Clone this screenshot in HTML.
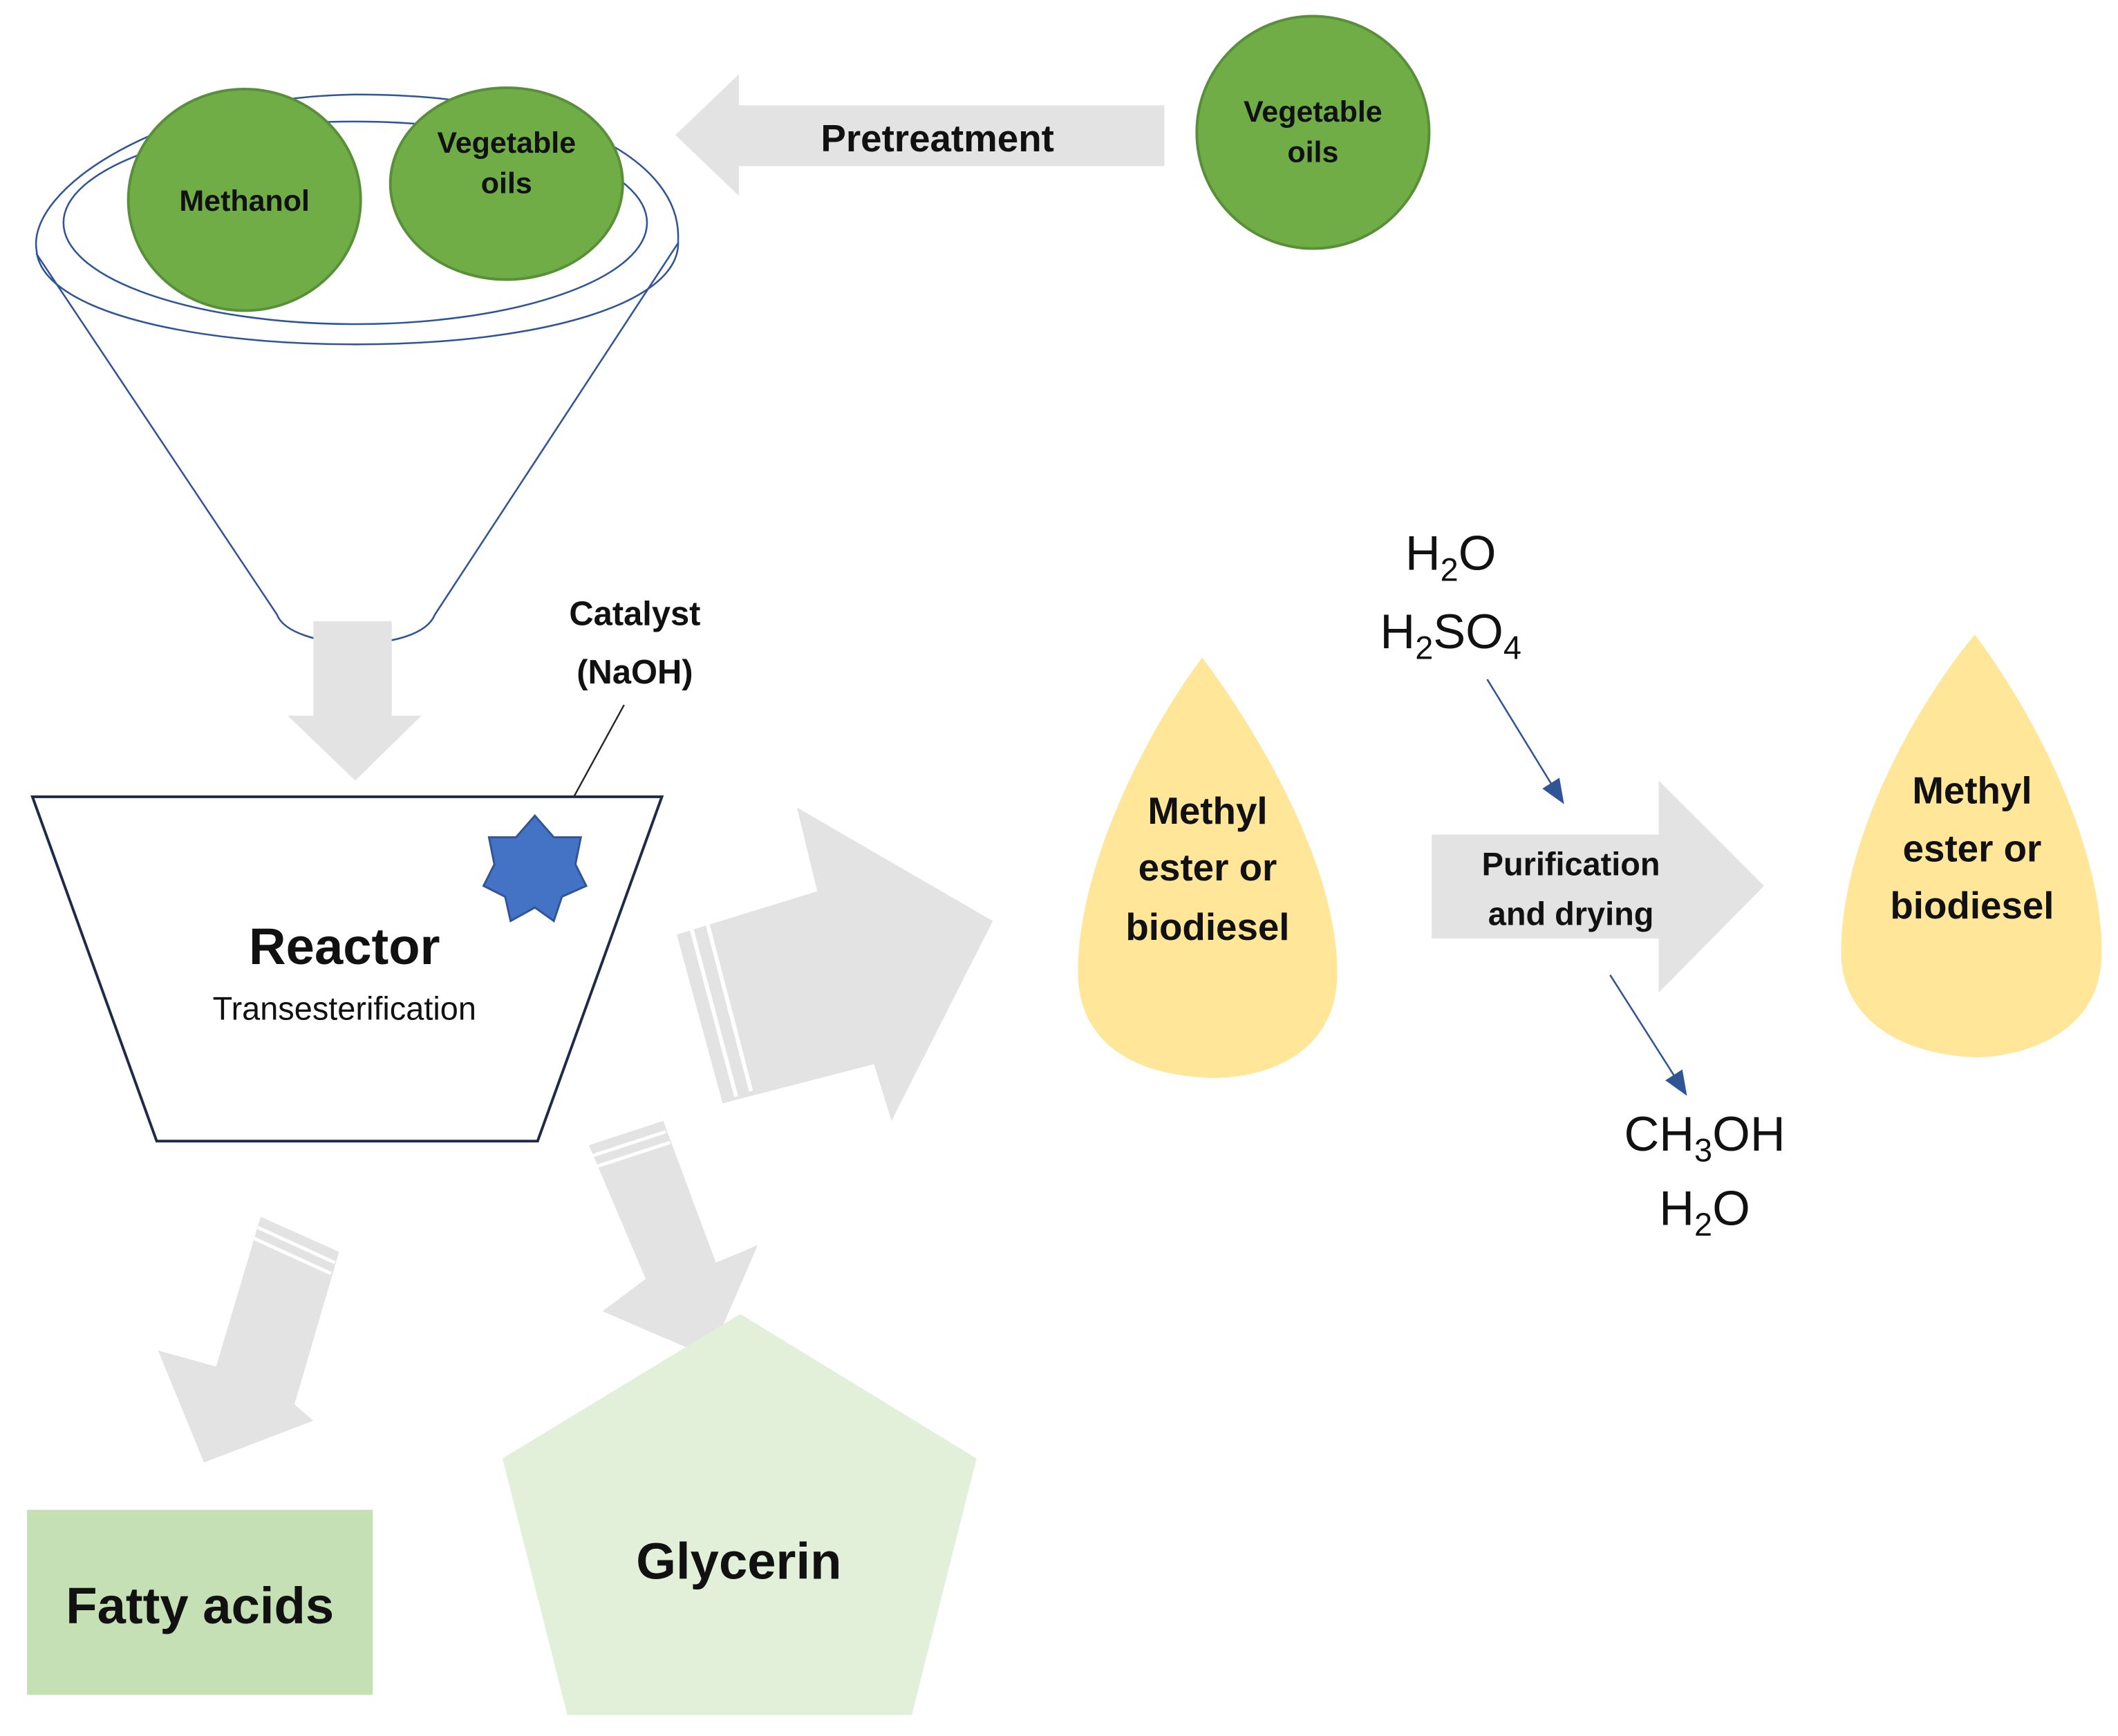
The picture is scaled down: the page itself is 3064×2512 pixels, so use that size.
<!DOCTYPE html>
<html><head><meta charset="utf-8"><style>
html,body{margin:0;padding:0;background:#fff;}
svg{display:block;}
text{font-family:"Liberation Sans","DejaVu Sans",sans-serif;}
.b{font-weight:bold;}
</style></head><body>
<svg width="3064" height="2512" viewBox="0 0 1568 1285.5" preserveAspectRatio="none" xmlns="http://www.w3.org/2000/svg">
<rect width="1568" height="1285.5" fill="#fff"/>
<!-- funnel -->
<g fill="none" stroke="#2f5597" stroke-width="1.3">
<path d="M27,185 C20,140 120,72 263,70 C420,70 505,120 502,178"/>
<path d="M27,185 C30,230 140,255 263,255 C400,255 505,225 502,178"/>
<ellipse cx="263" cy="165" rx="216" ry="75"/>
<path d="M27,188 L205,455 C215,482 310,485 322,455 L502,180"/>
</g>
<!-- circles -->
<ellipse cx="181" cy="148" rx="86" ry="82" fill="#70ad47" stroke="#5a8f3a" stroke-width="2"/>
<ellipse cx="375" cy="136" rx="86" ry="71" fill="#70ad47" stroke="#5a8f3a" stroke-width="2"/>
<ellipse cx="972" cy="98" rx="86" ry="86" fill="#70ad47" stroke="#5a8f3a" stroke-width="2"/>
<g class="b" font-size="22" text-anchor="middle" fill="#111">
<text x="181" y="156" class="b">Methanol</text>
<text x="375" y="113" class="b">Vegetable</text>
<text x="375" y="143" class="b">oils</text>
<text x="972" y="90" class="b">Vegetable</text>
<text x="972" y="120" class="b">oils</text>
</g>
<!-- pretreatment arrow -->
<polygon points="500,100 547,55 547,78 862,78 862,123 547,123 547,145" fill="#e3e3e3"/>
<text x="694" y="112" font-size="28" class="b" text-anchor="middle" fill="#111">Pretreatment</text>
<!-- down arrow -->
<polygon points="232,460 290,460 290,530 312,530 263,578 213,530 232,530" fill="#e3e3e3"/>
<!-- catalyst -->
<text x="470" y="463" font-size="25" class="b" text-anchor="middle" fill="#111">Catalyst</text>
<text x="470" y="506" font-size="25" class="b" text-anchor="middle" fill="#111">(NaOH)</text>
<line x1="462" y1="522" x2="415" y2="608" stroke="#222" stroke-width="1.2"/>
<!-- reactor -->
<polygon points="24,590 490,590 398,845 116,845" fill="#fff" stroke="#1f2a4a" stroke-width="2"/>
<polygon points="396,604 410,620 430,620 426,640 434,656 416,664 410,682 396,672 378,682 374,664 358,656 366,640 362,620 382,620" fill="#4472c4" stroke="#2f5597" stroke-width="1.5"/>
<text x="255" y="714" font-size="38" class="b" text-anchor="middle" fill="#111">Reactor</text>
<text x="255" y="755" font-size="24" text-anchor="middle" fill="#111">Transesterification</text>
<!-- big right arrow -->
<polygon points="501,692 605,660 590,598 735,682 660,830 647,788 535,817" fill="#e3e3e3"/>
<line x1="512" y1="688" x2="545" y2="812" stroke="#fff" stroke-width="3"/>
<line x1="524" y1="685" x2="556" y2="808" stroke="#fff" stroke-width="3"/>
<!-- down-right arrow -->
<polygon points="436,848 491,830 530,935 561,922 525,1005 446,971 478,947" fill="#e3e3e3"/>
<line x1="438" y1="856" x2="493" y2="838" stroke="#fff" stroke-width="2.5"/>
<line x1="441" y1="864" x2="496" y2="846" stroke="#fff" stroke-width="2.5"/>
<!-- down-left arrow -->
<polygon points="193,901 251,927 218,1040 232,1052 151,1083 117,1000 160,1012" fill="#e3e3e3"/>
<line x1="191" y1="909" x2="248" y2="935" stroke="#fff" stroke-width="2.5"/>
<line x1="188" y1="917" x2="245" y2="943" stroke="#fff" stroke-width="2.5"/>
<!-- fatty acids -->
<rect x="20" y="1118" width="256" height="137" fill="#c5e0b4"/>
<text x="148" y="1202" font-size="38" class="b" text-anchor="middle" fill="#111">Fatty acids</text>
<!-- glycerin -->
<polygon points="548,973 723,1080 675,1270 420,1270 372,1080" fill="#e2f0d9"/>
<text x="547" y="1169" font-size="38" class="b" text-anchor="middle" fill="#111">Glycerin</text>
<!-- drops -->
<path d="M890,487 C930,540 990,640 990,720 C990,790 920,800 893,798 C830,795 798,765 798,720 C798,640 850,540 890,487 Z" fill="#ffe699"/>
<path d="M1462,470 C1500,520 1556,620 1556,705 C1556,770 1490,783 1462,783 C1400,780 1363,750 1363,705 C1363,620 1420,520 1462,470 Z" fill="#ffe699"/>
<g font-size="28" class="b" text-anchor="middle" fill="#111">
<text x="894" y="610" class="b">Methyl</text>
<text x="894" y="652" class="b">ester or</text>
<text x="894" y="696" class="b">biodiesel</text>
<text x="1460" y="595" class="b">Methyl</text>
<text x="1460" y="638" class="b">ester or</text>
<text x="1460" y="680" class="b">biodiesel</text>
</g>
<!-- purification -->
<polygon points="1060,618 1228,618 1228,578 1306,656 1228,735 1228,695 1060,695" fill="#e3e3e3"/>
<text x="1163" y="648" font-size="24" class="b" text-anchor="middle" fill="#111">Purification</text>
<text x="1163" y="685" font-size="24" class="b" text-anchor="middle" fill="#111">and drying</text>
<g font-size="36" fill="#111" text-anchor="middle">
<text x="1074" y="422">H<tspan font-size="24" dy="8">2</tspan><tspan dy="-8">O</tspan></text>
<text x="1074" y="480">H<tspan font-size="24" dy="8">2</tspan><tspan dy="-8">SO</tspan><tspan font-size="24" dy="8">4</tspan></text>
<text x="1262" y="852">CH<tspan font-size="24" dy="8">3</tspan><tspan dy="-8">OH</tspan></text>
<text x="1262" y="907">H<tspan font-size="24" dy="8">2</tspan><tspan dy="-8">O</tspan></text>
</g>
<g stroke="#2f5597" stroke-width="1.3" fill="#2f5597">
<line x1="1101" y1="503" x2="1150" y2="583"/>
<polygon points="1157,594 1143,584 1154,577"/>
<line x1="1192" y1="722" x2="1241" y2="799"/>
<polygon points="1248,810 1234,800 1245,793"/>
</g>
</svg>
</body></html>
